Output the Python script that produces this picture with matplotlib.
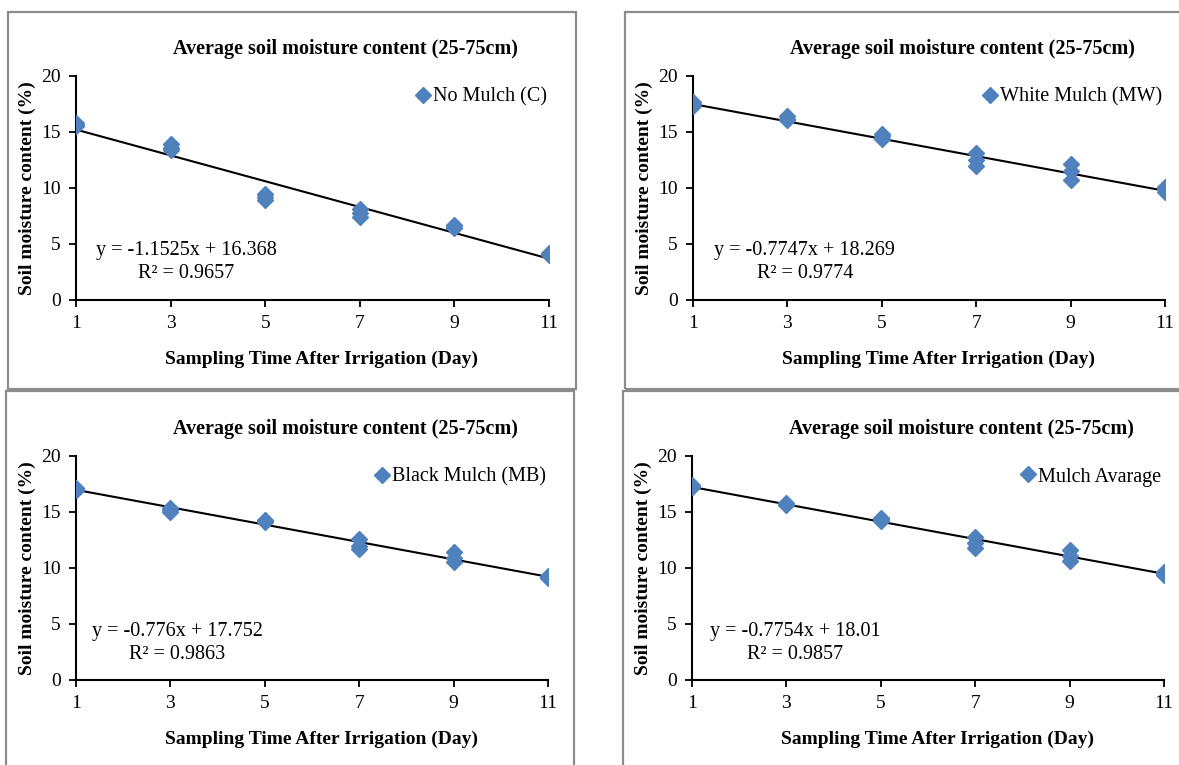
import matplotlib.pyplot as plt
from matplotlib.patches import Rectangle
import numpy as np

plt.rcParams['font.family'] = ['Liberation Serif', 'DejaVu Serif']

days = [1, 3, 5, 7, 9, 11]

# three readings per sampling day
no_mulch = [[15.8, 15.6, 15.5], [13.9, 13.6, 13.4], [9.5, 9.2, 8.9],
            [8.1, 7.8, 7.4], [6.7, 6.5, 6.4], [4.2, 4.1, 4.0]]
white_mulch = [[17.7, 17.5, 17.3], [16.4, 16.2, 16.1], [14.8, 14.6, 14.4],
               [13.1, 12.5, 12.0], [12.1, 11.5, 10.7], [10.1, 9.9, 9.6]]
black_mulch = [[17.1, 17.0, 17.0], [15.4, 15.2, 15.0], [14.3, 14.2, 14.1],
               [12.6, 12.0, 11.7], [11.4, 10.9, 10.5], [9.3, 9.2, 9.1]]
mulch_avg = [[17.4, 17.2, 17.2], [15.8, 15.7, 15.6], [14.5, 14.4, 14.2],
             [12.8, 12.2, 11.8], [11.6, 11.1, 10.6], [9.6, 9.5, 9.4]]

names = ['No Mulch (C)', 'White Mulch (MW)', 'Black Mulch (MB)', 'Mulch Avarage']
series = [no_mulch, white_mulch, black_mulch, mulch_avg]
slopes = [-1.1525, -0.7747, -0.776, -0.7754]
intercepts = [16.368, 18.269, 17.752, 18.01]
eq_text = ['y = -1.1525x + 16.368', 'y = -0.7747x + 18.269',
           'y = -0.776x + 17.752', 'y = -0.7754x + 18.01']
r2_text = ['R² = 0.9657', 'R² = 0.9774', 'R² = 0.9863', 'R² = 0.9857']

W, H = 1179, 765
fig = plt.figure(figsize=(W / 100, H / 100), dpi=100)

# axes boxes in pixels: left, right, top, bottom
ax_px = [(76, 549, 76, 300), (693, 1165, 76, 300),
         (76, 548, 456, 680), (692, 1164, 456, 680)]
# frame boxes in pixels: left, top, right, bottom
frame_px = [(8, 12, 576, 389), (625, 12, 1185, 389),
            (6, 391, 574, 775), (623, 391, 1185, 775)]
eq_pos = [(3.33, 3.4), (3.37, 3.4), (3.14, 3.3), (3.18, 3.3)]

for fl, ft, fr, fb in frame_px:
    fig.patches.append(Rectangle((fl / W, 1 - fb / H), (fr - fl) / W, (fb - ft) / H,
                                 transform=fig.transFigure, fill=False,
                                 edgecolor='#8c8c8c', lw=1.6))

blue = '#4f81bd'
for i in range(4):
    l, r, t, b = ax_px[i]
    ax = fig.add_axes([l / W, 1 - b / H, (r - l) / W, (b - t) / H])
    xs = np.repeat(days, 3)
    ys = np.array(series[i]).ravel()
    ax.plot(xs, ys, 'D', color=blue, markersize=8, label=names[i], zorder=3)
    xl = np.array([1, 11])
    ax.plot(xl, slopes[i] * xl + intercepts[i], color='black', lw=1.5, zorder=2)
    ax.set_xlim(1, 11)
    ax.set_ylim(0, 20)
    ax.set_xticks(days)
    ax.set_yticks([0, 5, 10, 15, 20])
    for s in ['top', 'right']:
        ax.spines[s].set_visible(False)
    for s in ['left', 'bottom']:
        ax.spines[s].set_linewidth(1.5)
        ax.spines[s].set_clip_on(False)
    ax.tick_params(direction='out', length=5, width=1.3, labelsize=14, pad=6)
    ax.patch.set_alpha(0)
    ax.text(eq_pos[i][0], eq_pos[i][1], eq_text[i] + '\n' + r2_text[i],
            ha='center', va='center', fontsize=14.5, multialignment='center',
            linespacing=1.3)
    ax.legend(loc='upper right', bbox_to_anchor=(1.012, 0.985), frameon=False,
              fontsize=14.5, handlelength=0.6, handletextpad=0.2, borderaxespad=0)
    ax.set_title('Average soil moisture content (25-75cm)', fontsize=14.5,
                 fontweight='bold', x=0.57, pad=16)
    ax.set_xlabel('Sampling Time After Irrigation (Day)', fontsize=14,
                  fontweight='bold', labelpad=13, x=0.52)
    ax.set_ylabel('Soil moisture content (%)', fontsize=14, fontweight='bold',
                  labelpad=4, y=0.5)

fig.savefig('out.png', dpi=100)
